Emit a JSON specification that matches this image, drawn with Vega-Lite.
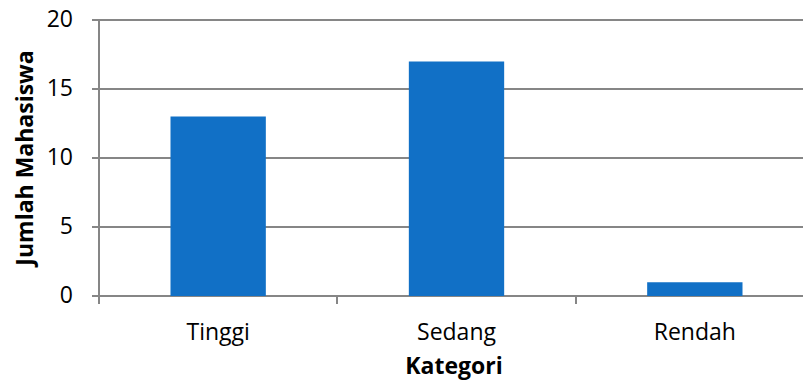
{
  "$schema": "https://vega.github.io/schema/vega-lite/v6.json",
  "width": 704,
  "height": 276,
  "autosize": {"type": "none"},
  "padding": {"left": 99, "top": 20, "right": 0, "bottom": 91},
  "background": "white",
  "data": {
    "values": [
      {"Kategori": "Tinggi", "Jumlah": 13},
      {"Kategori": "Sedang", "Jumlah": 17},
      {"Kategori": "Rendah", "Jumlah": 1}
    ]
  },
  "mark": {"type": "bar", "color": "#1170c6", "width": {"band": 0.4}},
  "encoding": {
    "x": {
      "field": "Kategori",
      "type": "nominal",
      "sort": null,
      "scale": {"range": [0, 715], "paddingInner": 0, "paddingOuter": 0},
      "axis": {
        "title": "Kategori",
        "domain": false,
        "grid": false,
        "translate": 0,
        "ticks": true,
        "tickBand": "extent",
        "tickSize": 8,
        "tickColor": "#868686",
        "tickWidth": 2,
        "labelAngle": 0,
        "labelFontSize": 23,
        "labelColor": "#000000",
        "labelBaseline": "alphabetic",
        "labelPadding": 36,
        "titleFontSize": 23,
        "titleFontWeight": "bold",
        "titleColor": "#000000",
        "titleBaseline": "alphabetic",
        "titleAlign": "center",
        "titleX": 355,
        "titleY": 78
      }
    },
    "y": {
      "field": "Jumlah",
      "type": "quantitative",
      "scale": {"domain": [0, 20]},
      "axis": {
        "title": "Jumlah Mahasiswa",
        "values": [0, 5, 10, 15, 20],
        "translate": 0,
        "domain": true,
        "domainColor": "#868686",
        "domainWidth": 2,
        "ticks": true,
        "tickSize": 7,
        "tickColor": "#868686",
        "tickWidth": 2,
        "grid": true,
        "gridColor": "#868686",
        "gridWidth": 2,
        "labelFontSize": 23,
        "labelColor": "#000000",
        "labelPadding": 19,
        "labelBaseline": "middle",
        "titleFontSize": 23,
        "titleFontWeight": "bold",
        "titleColor": "#000000",
        "titleAngle": -90,
        "titleBaseline": "alphabetic",
        "titleAlign": "center",
        "titleX": -66,
        "titleY": 138
      }
    }
  },
  "config": {
    "view": {"stroke": null},
    "font": "Open Sans"
  }
}
